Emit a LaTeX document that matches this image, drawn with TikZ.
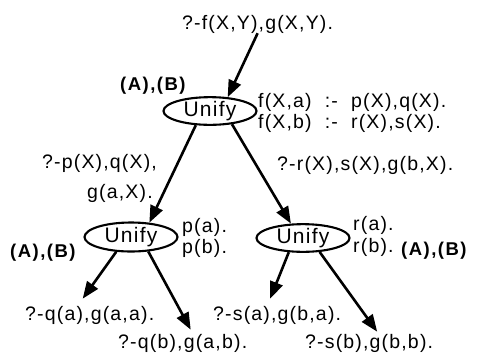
\documentclass[tikz,border=0pt]{standalone}
\usepackage{fontspec}
\setmainfont{Liberation Sans}[LetterSpace=6]
\usetikzlibrary{arrows.meta,shapes.geometric}
\begin{document}
\begin{tikzpicture}[x=1pt,y=-1pt,
  lbl/.style={anchor=base west,inner sep=0pt,font=\fontsize{19.5}{22}\selectfont},
  ab/.style={anchor=base west,inner sep=0pt,font=\fontsize{18.5}{20}\selectfont\bfseries\addfontfeature{LetterSpace=8}},
  unify/.style={ellipse,draw,line width=2.1pt,minimum width=93pt,minimum height=28pt,inner sep=0pt,font=\fontsize{21}{22}\selectfont},
  arr/.style={line width=2.6pt,-{Triangle[length=17pt,width=13pt]}},
  ln/.style={line width=2.6pt}]
\useasboundingbox (0,0) rectangle (478,362);
% goals
\node[lbl] (top) at (182,29) {?-f(X,Y),g(X,Y).};
\node[lbl] (pq) at (42,168) {?-p(X),q(X),};
\node[lbl] (ga) at (87,198) {g(a,X).};
\node[lbl] (rs) at (277,170) {?-r(X),s(X),g(b,X).};
\node[lbl] (qa) at (25,320) {?-q(a),g(a,a).};
\node[lbl] (qb) at (118,348) {?-q(b),g(a,b).};
\node[lbl] (sa) at (213,320) {?-s(a),g(b,a).};
\node[lbl] (sb) at (305,348) {?-s(b),g(b,b).};
% clauses
\node[lbl] (f1) at (258,107) {f(X,a)~~:-~~p(X),q(X).};
\node[lbl] (f2) at (258,128) {f(X,b)~~:-~~r(X),s(X).};
\node[lbl] (pa) at (182,232) {p(a).};
\node[lbl] (pb) at (182,253) {p(b).};
\node[lbl] (ra) at (353,230) {r(a).};
\node[lbl] (rb) at (353,252) {r(b).};
% labels
\node[ab] (ab1) at (120,90) {(A),(B)};
\node[ab] (ab2) at (10,257) {(A),(B)};
\node[ab] (ab3) at (401,255) {(A),(B)};
% unify nodes
\node[unify,minimum height=27pt] (u1) at (210,111) {Unify};
\node[unify,minimum height=29pt] (u2) at (131,237) {Unify};
\node[unify,minimum height=27pt] (u3) at (303,238) {Unify};
% connectors
\draw[arr] (top.south) -- (u1.38);
\draw[arr] (u1.-135) -- (u2.38);
\draw[arr] (u1.-31) -- (u3.130);
\draw[arr] (u2.-135) -- ([xshift=-7pt,yshift=7pt]qa.north);
\draw[arr] (u2.-40) -- ([xshift=8pt,yshift=4pt]qb.north);
\draw[arr] (u3.-135) -- ([xshift=-7pt,yshift=7pt]sa.north);
\draw[arr] (u3.-40) -- ([xshift=8pt,yshift=2pt]sb.north);
\end{tikzpicture}
\end{document}
